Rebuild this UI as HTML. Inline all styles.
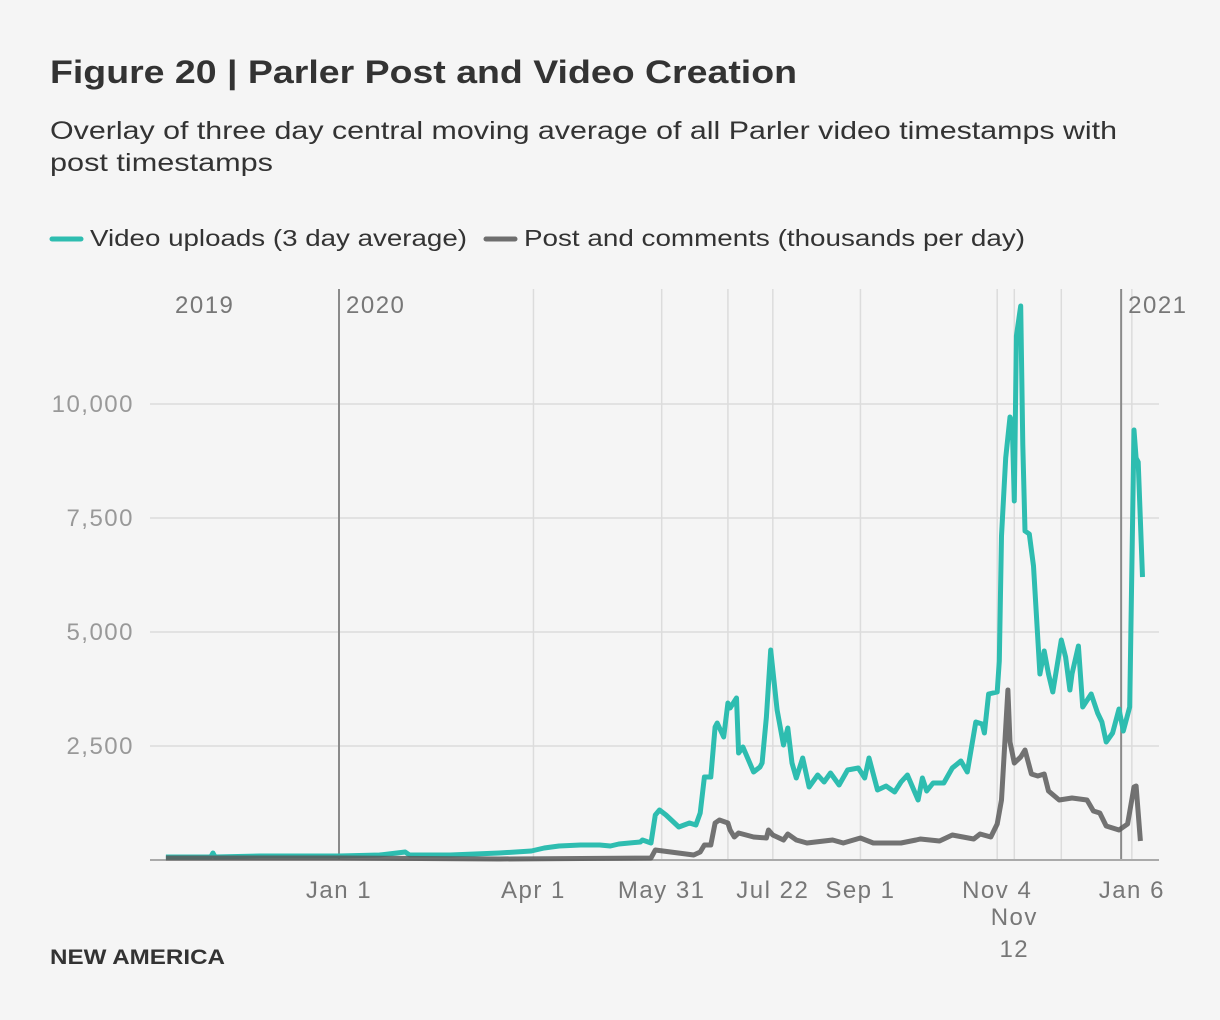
<!DOCTYPE html>
<html><head><meta charset="utf-8"><style>
body{margin:0;background:#f5f5f5;width:1220px;height:1020px;overflow:hidden;font-family:"Liberation Sans",sans-serif;}
svg{position:absolute;left:0;top:0}
</style></head><body>
<svg id="c" width="1220" height="1020">
<text x="50" y="83" font-size="32" font-weight="bold" fill="#333" textLength="747" lengthAdjust="spacingAndGlyphs">Figure 20 | Parler Post and Video Creation</text>
<text x="50" y="139" font-size="25" fill="#333" textLength="1067" lengthAdjust="spacingAndGlyphs">Overlay of three day central moving average of all Parler video timestamps with</text>
<text x="50" y="171" font-size="25" fill="#333" textLength="223" lengthAdjust="spacingAndGlyphs">post timestamps</text>
<g>
<line x1="52" y1="239" x2="81" y2="239" stroke="#2ebdb0" stroke-width="5" stroke-linecap="round"/>
<text x="90" y="246" font-size="23" fill="#333" textLength="377" lengthAdjust="spacingAndGlyphs">Video uploads (3 day average)</text>
<line x1="486" y1="239" x2="515" y2="239" stroke="#6e6e6e" stroke-width="5" stroke-linecap="round"/>
<text x="524" y="246" font-size="23" fill="#333" textLength="501" lengthAdjust="spacingAndGlyphs">Post and comments (thousands per day)</text>
</g>
<g id="grid"></g>
<g id="marks"></g>
<text x="50" y="964" font-size="21" font-weight="bold" fill="#333" textLength="175" lengthAdjust="spacingAndGlyphs">NEW AMERICA</text>
</svg>
<script>
const yTicks=[2500,5000,7500,10000];
const yTickLabels=["2,500","5,000","7,500","10,000"];
const xTickDays=[0,91,151,203,244,308,316,371];
const xTickLabels=["Jan 1","Apr 1","May 31","Jul 22","Sep 1","Nov 4","Nov 12","Jan 6"];
const extraGridDays=[182,338];
const yearDays=[-81,0,366];
const yearLabels=["2019","2020","2021"];
const videoDays=[-81,-65,-60,-59,-58,-37,-18,0,19,31,33,52,75,90,96,103,113,122,127,131,141,142,146,148,150,153,159,164,167,169,171,174,176,177,180,182,183,186,187,189,194,197,198,200,202,205,208,210,212,214,217,220,224,227,230,234,238,243,246,248,252,256,260,263,266,271,273,275,278,283,287,291,294,298,301,302,304,308,309,310,312,314,315,316,317,319,320,321,323,325,328,330,332,334,338,340,342,343,346,348,352,355,357,359,362,365,367,370,372,373,374,376];
const videoValues=[66,66,66,154,66,88,88,88,110,175,110,110,154,197,263,307,329,329,307,351,395,439,373,987,1096,987,724,811,768,1031,1820,1820,2917,3004,2697,3443,3333,3553,2346,2478,1930,2040,2127,3136,4605,3289,2522,2895,2127,1798,2237,1601,1864,1711,1908,1645,1974,2018,1798,2237,1535,1623,1491,1711,1864,1316,1798,1513,1689,1689,2018,2171,1930,3026,2982,2785,3640,3684,4364,7105,8816,9715,9583,7873,11491,12150,9100,7215,7149,6447,4079,4583,4079,3684,4825,4452,3728,4079,4693,3355,3640,3224,3026,2588,2785,3311,2829,3355,9430,8816,8728,6206];
const postDays=[-81,-42,0,75,146,148,166,169,171,174,176,178,182,183,185,187,194,200,201,203,208,210,214,219,231,236,244,250,263,270,272,281,287,297,300,305,308,310,313,314,316,319,321,324,327,330,332,337,343,350,353,356,359,362,365,369,372,373,375];
const postValues=[44,44,44,22,44,219,110,175,329,329,811,877,811,658,504,592,504,482,658,548,439,570,439,373,439,373,482,373,373,439,461,417,548,461,570,504,789,1316,3728,2588,2127,2259,2412,1886,1842,1886,1513,1316,1360,1316,1075,1031,746,702,658,789,1601,1623,417];

const NS="http://www.w3.org/2000/svg";
const x=d=>339+d*2.137;
const y=v=>860-v*0.0456;
const X0=150,X1=1159,Y0=860,YT=289;
function mk(parent,tag,attrs){const e=document.createElementNS(NS,tag);for(const k in attrs)e.setAttribute(k,attrs[k]);parent.appendChild(e);return e;}
const g=document.getElementById('grid'),m=document.getElementById('marks');
const LS='1.5';
yTicks.forEach((t,i)=>{
  const l=mk(g,'line',{x1:X0,x2:X1,y1:y(t),y2:y(t),stroke:'#dcdcdc','stroke-width':1.5});
  
  
  const tx=mk(g,'text',{x:134,y:y(t)+8,'text-anchor':'end','font-size':24,'letter-spacing':LS,fill:'#999'});
  tx.textContent=yTickLabels[i];
  
  
});
xTickDays.concat(extraGridDays).forEach(d=>{
  const l=mk(g,'line',{x1:x(d),x2:x(d),y1:YT,y2:Y0,stroke:'#dcdcdc','stroke-width':1.5});
  
  
});
xTickDays.forEach((d,i)=>{
  const lab=xTickLabels[i];
  if(lab==="Nov 12"){
    const t1=mk(g,'text',{x:x(d),y:925,'text-anchor':'middle','font-size':24,'letter-spacing':LS,fill:'#777'});t1.textContent="Nov";
    
    
    const t2=mk(g,'text',{x:x(d),y:957,'text-anchor':'middle','font-size':24,'letter-spacing':LS,fill:'#777'});t2.textContent="12";
    
    
  } else {
    const t=mk(g,'text',{x:x(d),y:898,'text-anchor':'middle','font-size':24,'letter-spacing':LS,fill:'#777'});t.textContent=lab;
    
    
  }
});
yearDays.forEach((d,i)=>{
  if(i>0){const l=mk(g,'line',{x1:x(d),x2:x(d),y1:YT,y2:Y0,stroke:'#8a8a8a','stroke-width':2});
    
    }
  const t=mk(g,'text',{x:i===0?175:x(d)+7,y:313,'font-size':24,'letter-spacing':LS,fill:'#777'});t.textContent=yearLabels[i];
  
  
});
const base=mk(g,'line',{x1:X0,x2:X1,y1:Y0,y2:Y0,stroke:'#aaa','stroke-width':2});


function path(days,vals){return days.map((d,i)=>(i?'L':'M')+x(d).toFixed(1)+','+y(vals[i]).toFixed(1)).join('');}
const pv=mk(m,'path',{d:path(videoDays,videoValues),fill:'none',stroke:'#2ebdb0','stroke-width':5,'stroke-linejoin':'round'});


const pp=mk(m,'path',{d:path(postDays,postValues),fill:'none',stroke:'#5a5a5a','stroke-opacity':0.85,'stroke-width':5,'stroke-linejoin':'round'});


</script>
</body></html>
